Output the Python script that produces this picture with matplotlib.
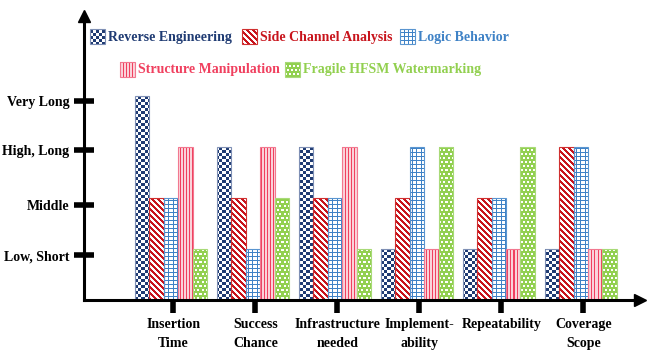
"""Qualitative comparison of HFSM attack/defence methods - textured bar chart."""
import numpy as np
import matplotlib
matplotlib.use("Agg")
import matplotlib.pyplot as plt
from matplotlib.colors import to_rgb

# ── Data ──────────────────────────────────────────────────────────────────────
criteria = ["Insertion\nTime", "Success\nChance", "Infrastructure\nneeded",
            "Implement-\nability", "Repeatability", "Coverage\nScope"]
methods = ["Reverse Engineering", "Side Channel Analysis", "Logic Behavior",
           "Structure Manipulation", "Fragile HFSM Watermarking"]
reverse_eng   = [4, 3, 3, 1, 1, 1]
side_channel  = [2, 2, 2, 2, 2, 3]
logic_behav   = [2, 1, 2, 3, 2, 3]
structure_man = [3, 3, 3, 1, 1, 1]
fragile_hfsm  = [1, 2, 1, 3, 3, 1]
series = [reverse_eng, side_channel, logic_behav, structure_man, fragile_hfsm]

level_ticks  = [0.88, 1.86, 2.94, 3.9]
level_labels = ["Low, Short", "Middle", "High, Long", "Very Long"]

# ── Style ─────────────────────────────────────────────────────────────────────
KINDS  = ["checker", "diag", "grid", "vert", "dots"]
COLORS = ["#1F3B73", "#C8141C", "#3F82C6", "#F0405F", "#92D050"]
EDGES  = ["#7F90B5", "#D03030", "#5A95D0", "#F27890", "#A8DA78"]
FONT   = "Liberation Serif"

W_PX, H_PX = 648, 358
fig = plt.figure(figsize=(W_PX / 100, H_PX / 100), dpi=100)
fig.patch.set_facecolor("white")
ax = fig.add_axes([84 / W_PX, 58 / H_PX, (640 - 84) / W_PX, (300 - 16) / H_PX])
ax.set_xlim(-1.061, 5.72)
ax.set_ylim(0, 5.57)
ax.set_autoscale_on(False)


def pattern(kind, X, Y, color):
    c = np.array(to_rgb(color))
    img = np.ones(X.shape + (3,))
    if kind == "checker":
        mask = ((X // 3) + (Y // 3)) % 2 == 0
    elif kind == "diag":
        mask = ((X - Y) % 6) < 3
    elif kind == "grid":
        mask = (X % 4 == 0) | (Y % 4 == 0)
    elif kind == "vert":
        img[:] = np.array(to_rgb("#FAD3DA"))
        mask = X % 3 == 0
    else:
        xs = X + 2 * ((Y // 4) % 2)
        mask = ~(np.isin(xs % 4, (1, 2)) & np.isin(Y % 4, (1, 2)))
    img[mask] = c
    return img


def texture(x0, x1, y0, y1, kind, color):
    """Paint a pixel-aligned pattern over a data-space box."""
    (px0, py0), (px1, py1) = ax.transData.transform([(x0, y0), (x1, y1)])
    c0, c1 = int(round(px0)), int(round(px1))
    r0, r1 = int(round(H_PX - py1)), int(round(H_PX - py0))
    X, Y = np.meshgrid(np.arange(c0, max(c1, c0 + 1)), np.arange(r0, max(r1, r0 + 1)))
    ax.imshow(pattern(kind, X, Y, color), extent=(x0, x1, y0, y1),
              aspect="auto", interpolation="nearest", zorder=2)


# ── Bars ──────────────────────────────────────────────────────────────────────
x = np.arange(len(criteria))
bw = 0.175
for i, vals in enumerate(series):
    bars = ax.bar(x + (i - 2) * bw, vals, bw, facecolor="none",
                  edgecolor=EDGES[i], linewidth=0.8, zorder=3)
    for b in bars:
        texture(b.get_x(), b.get_x() + b.get_width(), 0, b.get_height(),
                KINDS[i], COLORS[i])

# ── Axes ──────────────────────────────────────────────────────────────────────
for s in ("top", "right"):
    ax.spines[s].set_visible(False)
for s in ("left", "bottom"):
    ax.spines[s].set_linewidth(2.2)
    ax.spines[s].set_zorder(5)
ax.plot(0, 1, marker="^", ms=8, color="black", transform=ax.transAxes, clip_on=False, zorder=6)
ax.plot(1, 0, marker=">", ms=8, color="black", transform=ax.transAxes, clip_on=False, zorder=6)

ax.set_xticks(x + 0.03)
ax.set_xticklabels(criteria, fontfamily=FONT, fontweight="bold", fontsize=10,
                   linespacing=1.55)
ax.tick_params(axis="x", direction="out", length=9, width=4, pad=4)
ax.set_yticks(level_ticks)
ax.set_yticklabels(level_labels, fontfamily=FONT, fontweight="bold", fontsize=10)
ax.tick_params(axis="y", direction="inout", length=14, width=4, pad=3.5)

# ── Legend (textured swatches, coloured labels) ───────────────────────────────
legend_pos = [(90, 29), (242, 29), (400, 29), (120, 62), (285, 62)]
inv = ax.transData.inverted()
for i, (lx, ly) in enumerate(legend_pos):
    (dx0, dy1), (dx1, dy0) = inv.transform([(lx, H_PX - ly), (lx + 15, H_PX - ly - 15)])
    texture(dx0, dx1, dy0, dy1, KINDS[i], COLORS[i])
    ax.add_patch(plt.Rectangle((dx0, dy0), dx1 - dx0, dy1 - dy0, fill=False,
                               edgecolor=EDGES[i], linewidth=0.8, zorder=3))
    fig.text((lx + 18) / W_PX, (H_PX - ly - 8) / H_PX, methods[i], color=COLORS[i],
             fontfamily=FONT, fontweight="bold", fontsize=10, va="center", ha="left")

fig.savefig("out.png", dpi=100, facecolor="white")
